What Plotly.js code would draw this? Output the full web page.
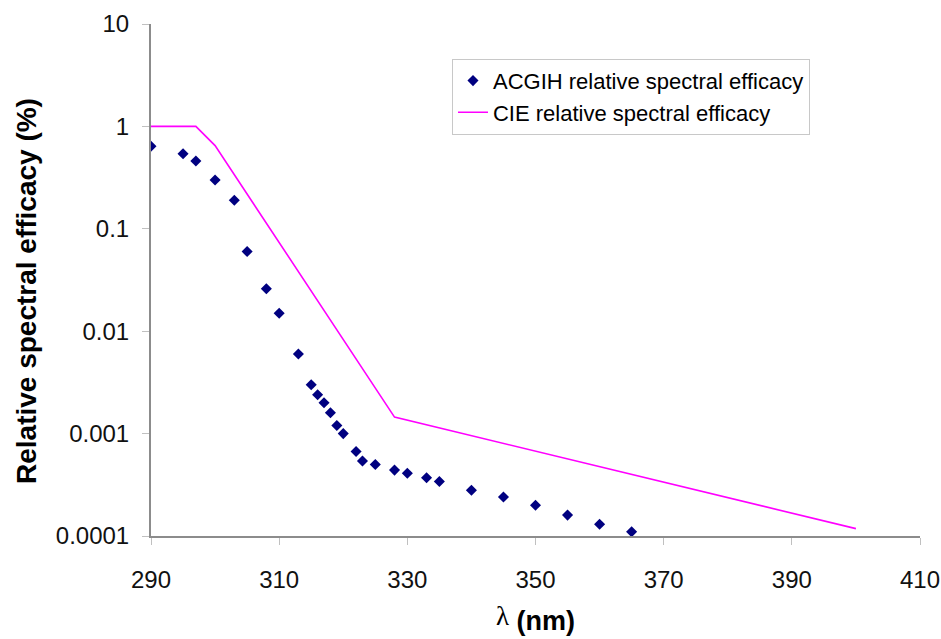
<!DOCTYPE html>
<html>
<head>
<meta charset="utf-8">
<script src="https://cdn.plot.ly/plotly-3.0.1.min.js"></script>
<style>html,body{margin:0;padding:0;background:#fff;}#chart{width:941px;height:639px;}</style>
</head>
<body>
<div id="chart"></div>
<script>
const acgihWavelength = [290, 295, 297, 300, 303, 305, 308, 310, 313, 315, 316, 317, 318, 319, 320, 322, 323, 325, 328, 330, 333, 335, 340, 345, 350, 355, 360, 365];
const acgihEfficacy = [0.64, 0.54, 0.46, 0.30, 0.19, 0.06, 0.026, 0.015, 0.006, 0.003, 0.0024, 0.002, 0.0016, 0.0012, 0.001, 0.00067, 0.00054, 0.0005, 0.00044, 0.00041, 0.00037, 0.00034, 0.00028, 0.00024, 0.0002, 0.00016, 0.00013, 0.00011];
const cieWavelength = [290, 297, 300, 328, 400];
const cieEfficacy = [1, 1, 0.65, 0.00145, 0.000118];
const yTickVals = [0.0001, 0.001, 0.01, 0.1, 1, 10];
const yTickText = ['0.0001', '0.001', '0.01', '0.1', '1', '10'];
const xTickVals = [290, 310, 330, 350, 370, 390, 410];
const yTitle = 'Relative spectral efficacy (%)';

const font = 'Liberation Sans, Arial, sans-serif';
const traces = [
  {x: acgihWavelength, y: acgihEfficacy, type: 'scatter', mode: 'markers', name: 'ACGIH relative spectral efficacy',
   marker: {symbol: 'diamond', size: 8.5, color: '#000080'}},
  {x: cieWavelength, y: cieEfficacy, type: 'scatter', mode: 'lines', name: 'CIE relative spectral efficacy',
   line: {color: '#FF00FF', width: 1.6}}
];
const layout = {
  width: 941, height: 639,
  margin: {l: 151, r: 21, t: 24, b: 103},
  paper_bgcolor: '#fff', plot_bgcolor: '#fff',
  font: {family: font, size: 24, color: '#000'},
  showlegend: true,
  legend: {x: 0.3914, y: 0.932, xanchor: 'left', yanchor: 'top', bordercolor: '#c8c8c8', borderwidth: 1,
    font: {family: font, size: 22, color: '#000'}, bgcolor: '#fff', tracegroupgap: 0},
  xaxis: {range: [290, 410], tickvals: xTickVals, showgrid: false, zeroline: false, showline: true,
    linecolor: '#8c8c8c', linewidth: 2, ticks: 'outside', ticklen: 7, tickcolor: '#c0c0c0', tickwidth: 1,
    ticklabelstandoff: 14, tickfont: {family: font, size: 24, color: '#111'},
    title: {text: '<span style="font-family:Liberation Serif, serif">λ</span> <sub><span style="font-size:27px"><b>(nm)</b></span></sub>', font: {family: font, size: 27}, standoff: 14}},
  yaxis: {type: 'log', range: [-4, 1], tickvals: yTickVals, ticktext: yTickText, showgrid: false, zeroline: false,
    showline: true, linecolor: '#8c8c8c', linewidth: 2, ticks: 'outside', ticklen: 7, tickcolor: '#c0c0c0', tickwidth: 1,
    ticklabelstandoff: 8, tickfont: {family: font, size: 24, color: '#111'}},
  annotations: [{text: '<b>' + yTitle + '</b>', xref: 'paper', yref: 'paper', x: 0, y: 0.4785, xshift: -125,
    xanchor: 'center', yanchor: 'middle', textangle: -90, showarrow: false, font: {family: font, size: 28, color: '#000'}}]
};
Plotly.newPlot('chart', traces, layout, {displayModeBar: false, staticPlot: true});
</script>
</body>
</html>
